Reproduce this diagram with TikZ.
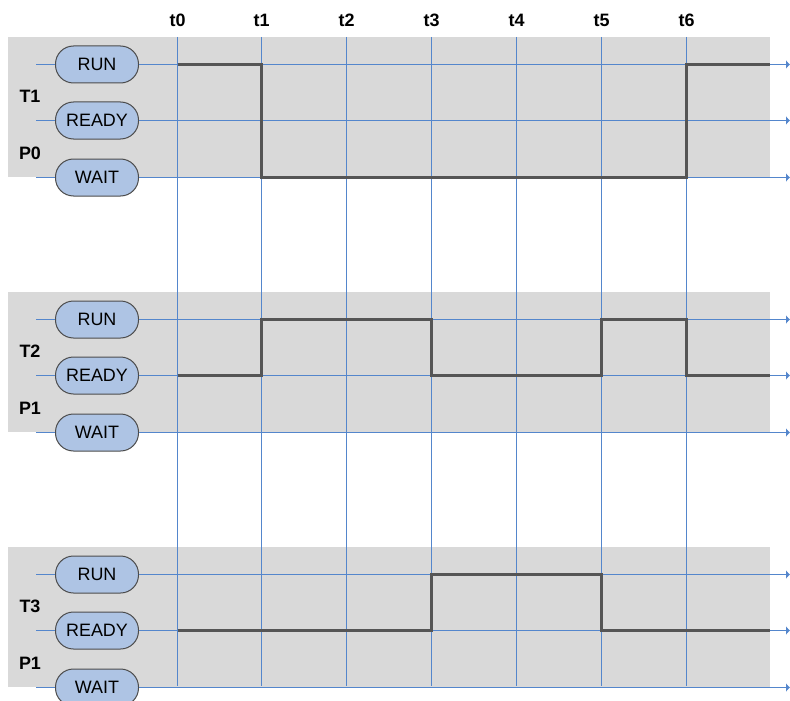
\documentclass[tikz,border=0pt]{standalone}
\usepackage{fontspec}
\setmainfont{Liberation Sans}
\usetikzlibrary{arrows.meta,positioning}
\definecolor{GridBlue}{RGB}{84,134,204}
\definecolor{PillBlue}{RGB}{174,196,228}
\definecolor{BandGrey}{RGB}{217,217,217}
\definecolor{TraceGrey}{RGB}{85,85,85}

\begin{document}
\begin{tikzpicture}[x=1bp,y=-1bp,pill/.style={rectangle,rounded corners=18bp,draw=black!70,line width=1bp,fill=PillBlue,minimum width=83bp,minimum height=37bp,inner sep=0pt,font=\fontsize{18}{20}\selectfont},lbl/.style={font=\fontsize{18}{20}\selectfont\bfseries,inner sep=0pt},band/.style={fill=BandGrey},grid/.style={draw=GridBlue,line width=1.5bp},axis/.style={grid,-{Latex[length=4bp,width=9bp]}},trace/.style={draw=TraceGrey,line width=3bp}]
\useasboundingbox (0,0) rectangle (790,701);
\coordinate (top) at (0,37);
\coordinate (bot) at (0,686);
\coordinate (lft) at (36,0);
\coordinate (stop) at (770,0);
\coordinate (rgt) at (790,0);
% bands, states, task labels
\foreach \b/\y/\t/\p in {1/37/T1/P0,2/292/T2/P1,3/547/T3/P1}{
  \fill[band] (8,\y) rectangle (770,\y+140);
  \node[pill](run\b) at (97,\y+27.5){RUN};
  \node[pill](ready\b) at (97,\y+83.5){READY};
  \node[pill](wait\b) at (97,\y+140.5){WAIT};
  \node[lbl](task\b) at (30,\y+59){\t};
  \node[lbl](proc\b) at (30,\y+116){\p};
  \foreach \s in {run,ready,wait}{
    \draw[grid](lft|-\s\b)--(\s\b.west);
    \draw[axis](\s\b.east)--(rgt|-\s\b);
  }
}
% time marks
\foreach \i/\x in {0/177.5,1/261.5,2/346.5,3/431.5,4/516.5,5/601.5,6/686.5}{
  \node[lbl](t\i) at (\x,20){t\i};
  \draw[grid](t\i|-top)--(t\i|-bot);
}
% state traces
\draw[trace](t0|-run1)--(t1|-run1)--(t1|-wait1)--(t6|-wait1)--(t6|-run1)--(stop|-run1);
\draw[trace](t0|-ready2)--(t1|-ready2)--(t1|-run2)--(t3|-run2)--(t3|-ready2)--(t5|-ready2)--(t5|-run2)--(t6|-run2)--(t6|-ready2)--(stop|-ready2);
\draw[trace](t0|-ready3)--(t3|-ready3)--(t3|-run3)--(t5|-run3)--(t5|-ready3)--(stop|-ready3);
\end{tikzpicture}
\end{document}
